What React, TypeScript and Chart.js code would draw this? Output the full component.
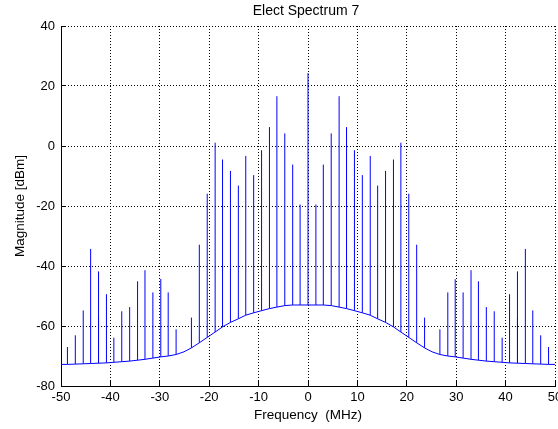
import React, { useEffect, useRef } from "react";
import { Chart, registerables } from "chart.js";

Chart.register(...registerables);

const FONT = '"Liberation Sans", Arial, Helvetica, sans-serif';

const titleText = "Elect Spectrum 7";
const xLabel = "Frequency  (MHz)";
const yLabel = "Magnitude [dBm]";

const xTicks = [-50, -40, -30, -20, -10, 0, 10, 20, 30, 40, 50];
const yTicks = [-80, -60, -40, -20, 0, 20, 40];

// stem frequencies (MHz)
const stemFreqs = [
  -48.7, -47.1, -45.5, -44.0, -42.4, -40.8, -39.3, -37.7, -36.1, -34.5, -33.0,
  -31.4, -29.8, -28.3, -26.7, -25.1, -23.6, -22.0, -20.4, -18.8, -17.3, -15.7,
  -14.1, -12.6, -11.0, -9.4, -7.8, -6.3, -4.7, -3.1, -1.6, 0, 1.6, 3.1, 4.7,
  6.3, 7.8, 9.4, 11.0, 12.6, 14.1, 15.7, 17.3, 18.8, 20.4, 22.0, 23.6, 25.1,
  26.7, 28.3, 29.8, 31.4, 33.0, 34.5, 36.1, 37.7, 39.3, 40.8, 42.4, 44.0, 45.5,
  47.1, 48.7,
];

// stem peak magnitudes (dBm); null = no visible stem
const stemPeaks = [
  -67.0, -63.1, -54.8, -34.3, -41.8, -49.4, -63.9, -55.1, -53.7, -45.1, -41.4,
  -48.8, -44.3, -48.8, -61.1, null, -57.2, -32.9, -15.9, 1.1, -4.5, -8.3,
  -13.2, -3.3, -9.7, -1.4, 6.3, 16.6, 4.2, -6.2, -19.5, 24.3, -19.5, -6.2, 4.2,
  16.6, 6.3, -1.4, -9.7, -3.3, -13.2, -8.3, -4.5, 1.1, -15.9, -32.9, -57.2, null,
  -61.1, -48.8, -44.4, -48.8, -41.4, -45.1, -53.7, -55.1, -63.9, -49.4, -41.8,
  -34.3, -54.8, -63.1, -67.0,
];

// noise floor at each stem frequency (dBm)
const floorAtStems = [
  -72.8, -72.7, -72.6, -72.5, -72.4, -72.3, -72.1, -71.9, -71.7, -71.4, -71.1,
  -70.7, -70.3, -70.0, -69.5, -68.6, -67.3, -65.6, -63.8, -62.0, -60.3, -58.8,
  -57.6, -56.4, -55.6, -54.9, -54.2, -53.7, -53.2, -53.0, -53.0, -53.0, -53.0,
  -53.0, -53.2, -53.7, -54.2, -54.9, -55.6, -56.4, -57.6, -58.8, -60.3, -62.0,
  -63.8, -65.6, -67.3, -68.6, -69.5, -70.0, -70.3, -70.7, -71.1, -71.4, -71.7,
  -71.9, -72.1, -72.3, -72.4, -72.5, -72.6, -72.7, -72.8,
];

// noise floor at the band edges
const edgeFreqs = [-50, 50];
const edgeFloor = [-72.8, -72.8];

// secondary (overlapping) spurs
const spurFreqs = [-42.4, 42.4];
const spurPeaks = [-57.1, -57.1];
const spurFloor = [-72.4, -72.4];

const BLUE = "#0000ff";

function stemData(freqs: number[], peaks: (number | null)[], floors: number[]) {
  const out: { x: number; y: number | null }[] = [];
  freqs.forEach((f, i) => {
    const p = peaks[i];
    if (p === null || p === undefined) return;
    out.push({ x: f, y: floors[i] });
    out.push({ x: f, y: p });
    out.push({ x: f, y: null });
  });
  return out;
}

function floorData() {
  const pts = [{ x: edgeFreqs[0], y: edgeFloor[0] }];
  stemFreqs.forEach((f, i) => pts.push({ x: f, y: floorAtStems[i] }));
  pts.push({ x: edgeFreqs[1], y: edgeFloor[1] });
  return pts;
}

const align = (p: number) => Math.round(p - 0.5) + 0.5;

const decorPlugin = {
  id: "decor",
  afterDatasetsDraw(chart: any) {
    const { ctx, chartArea, scales } = chart;
    ctx.save();
    ctx.strokeStyle = "#000";
    ctx.lineWidth = 1;
    ctx.beginPath();
    xTicks.forEach((v) => {
      const px = align(scales.x.getPixelForValue(v));
      ctx.moveTo(px, chartArea.bottom);
      ctx.lineTo(px, chartArea.bottom - 5);
    });
    yTicks.forEach((v) => {
      const py = align(scales.y.getPixelForValue(v));
      ctx.moveTo(chartArea.left, py);
      ctx.lineTo(chartArea.left + 5, py);
    });
    ctx.stroke();
    ctx.restore();
  },
  afterDraw(chart: any) {
    const { ctx, chartArea } = chart;
    ctx.save();
    ctx.fillStyle = "#000";
    ctx.font = `14px ${FONT}`;
    ctx.textAlign = "center";
    ctx.textBaseline = "middle";
    ctx.fillText(titleText, (chartArea.left + chartArea.right) / 2 - 2, 11);
    ctx.restore();
  },
};

export default function App() {
  const ref = useRef<HTMLCanvasElement | null>(null);

  useEffect(() => {
    document.body.style.margin = "0";
    const canvas = ref.current;
    if (!canvas) return;
    const chart = new Chart(canvas, {
      type: "line",
      data: {
        datasets: [
          {
            data: stemData(stemFreqs, stemPeaks, floorAtStems),
            borderColor: BLUE,
            borderWidth: 1,
            pointRadius: 0,
            spanGaps: false,
            tension: 0,
          },
          {
            data: stemData(spurFreqs, spurPeaks, spurFloor),
            borderColor: "#0000c8",
            borderWidth: 1,
            pointRadius: 0,
            spanGaps: false,
            tension: 0,
          },
          {
            data: floorData(),
            borderColor: BLUE,
            borderWidth: 1,
            pointRadius: 0,
            tension: 0,
          },
        ],
      },
      options: {
        animation: false,
        responsive: false,
        events: [],
        layout: { padding: { top: 26, right: 3, left: 0, bottom: 0 } },
        plugins: {
          legend: { display: false },
          tooltip: { enabled: false },
          title: { display: false },
        },
        scales: {
          x: {
            type: "linear",
            min: -50,
            max: 50,
            afterBuildTicks: (s: any) => {
              s.ticks = xTicks.map((v) => ({ value: v }));
            },
            afterFit: (s: any) => {
              s.height = 43;
              s.paddingLeft = 0;
              s.paddingRight = 0;
            },
            ticks: {
              color: "#000",
              font: { family: FONT, size: 13 },
              padding: 4,
              maxRotation: 0,
              autoSkip: false,
              callback: (v: any) => String(v),
            },
            grid: {
              color: "#000",
              lineWidth: 1,
              drawTicks: false,
            },
            border: { display: true, color: "#000", width: 1, dash: [1, 2] },
            title: {
              display: true,
              text: xLabel,
              color: "#000",
              font: { family: FONT, size: 13.5 },
              padding: { top: 0, bottom: 6 },
            },
          },
          y: {
            type: "linear",
            min: -80,
            max: 40,
            afterBuildTicks: (s: any) => {
              s.ticks = yTicks.map((v) => ({ value: v }));
            },
            afterFit: (s: any) => {
              s.width = 61;
              s.paddingTop = 0;
              s.paddingBottom = 0;
            },
            ticks: {
              color: "#000",
              font: { family: FONT, size: 13 },
              padding: 6,
              autoSkip: false,
              callback: (v: any) => String(v),
            },
            grid: {
              color: "#000",
              lineWidth: 1,
              drawTicks: false,
            },
            border: { display: true, color: "#000", width: 1, dash: [1, 2] },
            title: {
              display: true,
              text: yLabel,
              color: "#000",
              font: { family: FONT, size: 13.5 },
              padding: { top: 12, bottom: 0 },
            },
          },
        },
      },
      plugins: [decorPlugin],
    } as any);
    return () => chart.destroy();
  }, []);

  return (
    <div style={{ position: "fixed", left: 0, top: 0, width: 558, height: 429, background: "#fff" }}>
      <canvas ref={ref} width={558} height={429} />
    </div>
  );
}
